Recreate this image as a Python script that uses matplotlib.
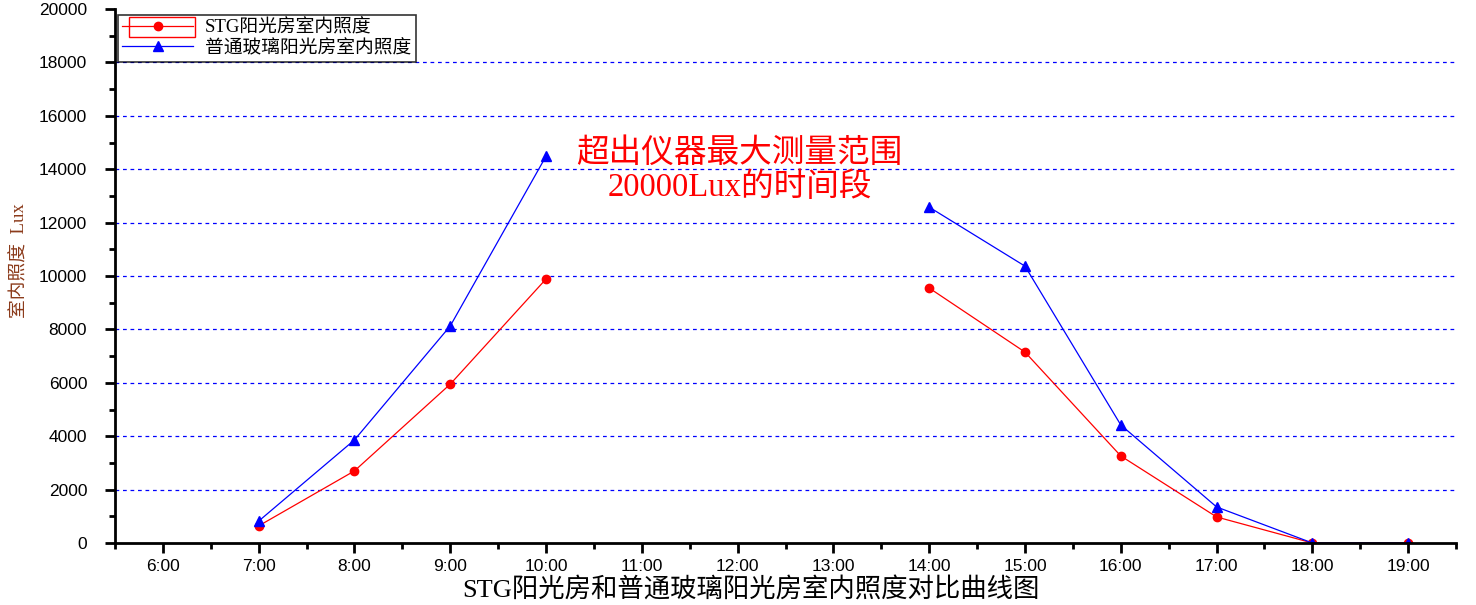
import numpy as np
import matplotlib
matplotlib.use('Agg')
import matplotlib.pyplot as plt
from matplotlib.patches import Rectangle

plt.rcParams['font.family'] = ['Liberation Serif', 'Noto Sans CJK SC', 'DejaVu Sans']
plt.rcParams['axes.unicode_minus'] = False

# 数据
hours = [7, 8, 9, 10, 11, 12, 13, 14, 15, 16, 17, 18, 19]
tick_hours = list(range(6, 20))
tick_labels = ['%d:00' % h for h in tick_hours]
stg = [640, 2700, 5950, 9890, np.nan, np.nan, np.nan, 9550, 7150, 3260, 975, 0, 0]
glass = [820, 3860, 8130, 14490, np.nan, np.nan, np.nan, 12580, 10370, 4420, 1350, 0, 0]

fig = plt.figure(figsize=(14.76, 6.05), dpi=100, facecolor='white')
ax = fig.add_axes([0.0779, 0.1025, 0.9086, 0.8825])

ax.plot(hours, stg, color='red', lw=0.9, marker='o', ms=6, label=u'STG阳光房室内照度')
ax.plot(hours, glass, color='blue', lw=0.9, marker='^', ms=7, label=u'普通玻璃阳光房室内照度')

ax.set_xlim(5.5, 19.5)
ax.set_ylim(0, 20000)
ax.set_xticks(tick_hours)
ax.set_xticklabels(tick_labels, family=['Liberation Sans'], fontsize=12.5)
ax.set_xticks(np.arange(5.5, 19.6, 1.0), minor=True)
ax.set_yticks(range(0, 20001, 2000))
ax.set_yticklabels([str(v) for v in range(0, 20001, 2000)], family=['Liberation Sans'], fontsize=12.5)
ax.set_yticks(range(1000, 20000, 2000), minor=True)
ax.tick_params(axis='both', which='major', direction='out', length=7, width=2)
ax.tick_params(axis='both', which='minor', direction='out', length=4, width=2)
ax.tick_params(axis='x', pad=4.5)
ax.tick_params(axis='y', pad=13)

for s in ['top', 'right']:
    ax.spines[s].set_visible(False)
for s in ['left', 'bottom']:
    ax.spines[s].set_linewidth(2)

for v in range(2000, 20000, 2000):
    ax.axhline(v, color='blue', lw=0.9, ls=(0, (3, 3)), zorder=0)

ax.set_ylabel(u'室内照度  Lux', color='#8B3A1A', fontsize=13.5)
ax.yaxis.set_label_coords(-0.0641, 0.528)
ax.set_xlabel(u'STG阳光房和普通玻璃阳光房室内照度对比曲线图', fontsize=19)
ax.xaxis.set_label_coords(0.474, -0.0655)

ax.text(12.02, 13940, u'超出仪器最大测量范围\n20000Lux的时间段', color='red',
        fontsize=23.5, ha='center', va='center', linespacing=1.15)

leg = ax.legend(loc='upper left', bbox_to_anchor=(0.0005, 0.993), fontsize=13.5,
                frameon=True, fancybox=False, edgecolor='black', handlelength=3.8,
                borderpad=0.25, labelspacing=0.14, handletextpad=0.6, borderaxespad=0.1)
leg.get_frame().set_linewidth(1.2)

# Origin 里选中项的红色框
fig.patches.append(Rectangle((129 / 1476, 1 - 37 / 605), 66 / 1476, 20 / 605,
                             transform=fig.transFigure, fill=False, ec='red', lw=1))

fig.savefig('out.png', dpi=100)
